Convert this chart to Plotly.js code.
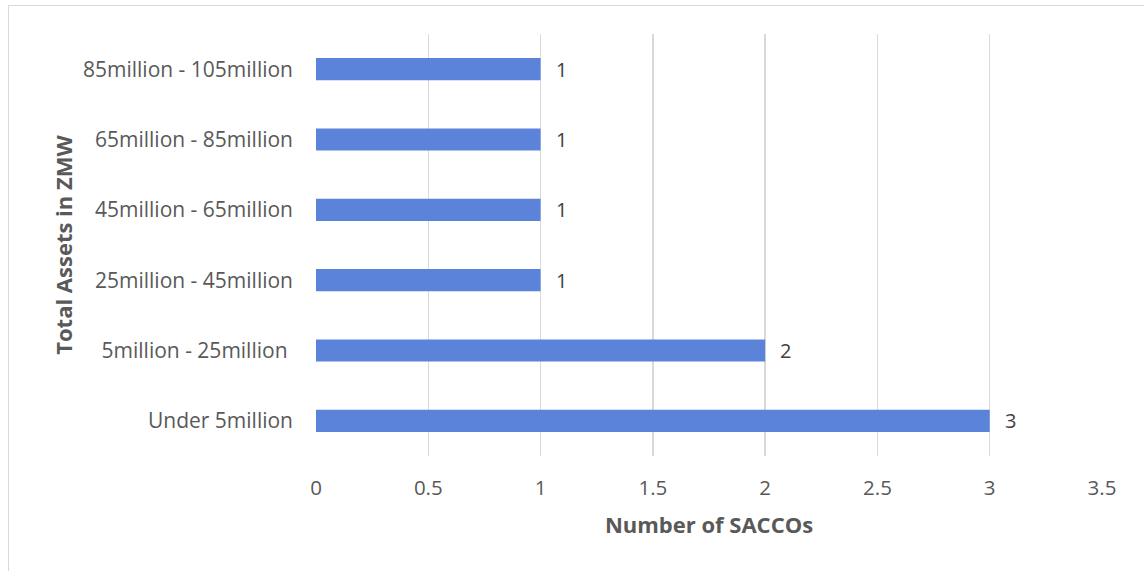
<!DOCTYPE html>
<html>
<head>
<meta charset="utf-8">
<script src="https://cdn.plot.ly/plotly-3.0.1.min.js"></script>
<style>
  html, body { margin: 0; padding: 0; background: #ffffff; }
  #wrap { position: relative; width: 1144px; height: 571px; }
  #chart { width: 1144px; height: 571px; }
  #frame {
    position: absolute; left: 8px; top: 5px; width: 1140px; height: 580px;
    border: 1.5px solid #d9d9d9; pointer-events: none; box-sizing: border-box;
  }
</style>
</head>
<body>
<div id="wrap">
  <div id="chart"></div>
  <div id="frame"></div>
</div>
<script>
// Asset bands (bottom to top) and how many SACCOs fall in each
const assetBands = [
  "Under 5million",
  "5million - 25million\u00a0",
  "25million - 45million",
  "45million - 65million",
  "65million - 85million",
  "85million - 105million"
];
const saccoCounts = [3, 2, 1, 1, 1, 1];
const xTicks = [0, 0.5, 1, 1.5, 2, 2.5, 3, 3.5];

const textColor = "#595959";
const fontFamily = "'Open Sans', 'Noto Sans', sans-serif";

const trace = {
  type: "bar",
  orientation: "h",
  x: saccoCounts,
  y: assetBands,
  marker: { color: "#5a83d9" },
  hoverinfo: "x+y"
};

// Value labels to the right of each bar
const valueLabels = saccoCounts.map((v, i) => ({
  x: v, y: assetBands[i], xref: "x", yref: "y",
  text: String(v), showarrow: false,
  xanchor: "left", yanchor: "middle", xshift: 13,
  font: { family: fontFamily, size: 20, color: "#404040" }
}));

const layout = {
  width: 1144, height: 571,
  margin: { l: 316, r: 42, t: 34, b: 115 },
  paper_bgcolor: "#ffffff",
  plot_bgcolor: "#ffffff",
  showlegend: false,
  bargap: 0.685,
  font: { family: fontFamily, color: textColor, size: 20 },
  xaxis: {
    range: [0, 3.5],
    tickvals: xTicks,
    ticktext: xTicks.map(String),
    showgrid: true, gridcolor: "#d9d9d9", gridwidth: 1.5,
    zeroline: false, showline: false,
    ticks: "", ticklabelstandoff: 17,
    tickfont: { family: fontFamily, size: 20.5, color: textColor },
    fixedrange: true,
    title: {
      text: "Number of SACCOs",
      standoff: 18,
      font: { family: fontFamily, size: 22, color: textColor, weight: "bold" }
    }
  },
  yaxis: {
    type: "category",
    categoryorder: "array", categoryarray: assetBands,
    showgrid: false, zeroline: false, showline: false,
    ticks: "", ticklabelstandoff: 22,
    tickfont: { family: fontFamily, size: 21, color: textColor },
    fixedrange: true,
    title: {
      text: "Total Assets in ZMW",
      standoff: 4,
      font: { family: fontFamily, size: 22, color: textColor, weight: "bold" }
    }
  },
  annotations: valueLabels
};

Plotly.newPlot("chart", [trace], layout, { staticPlot: true, displayModeBar: false });
</script>
</body>
</html>
